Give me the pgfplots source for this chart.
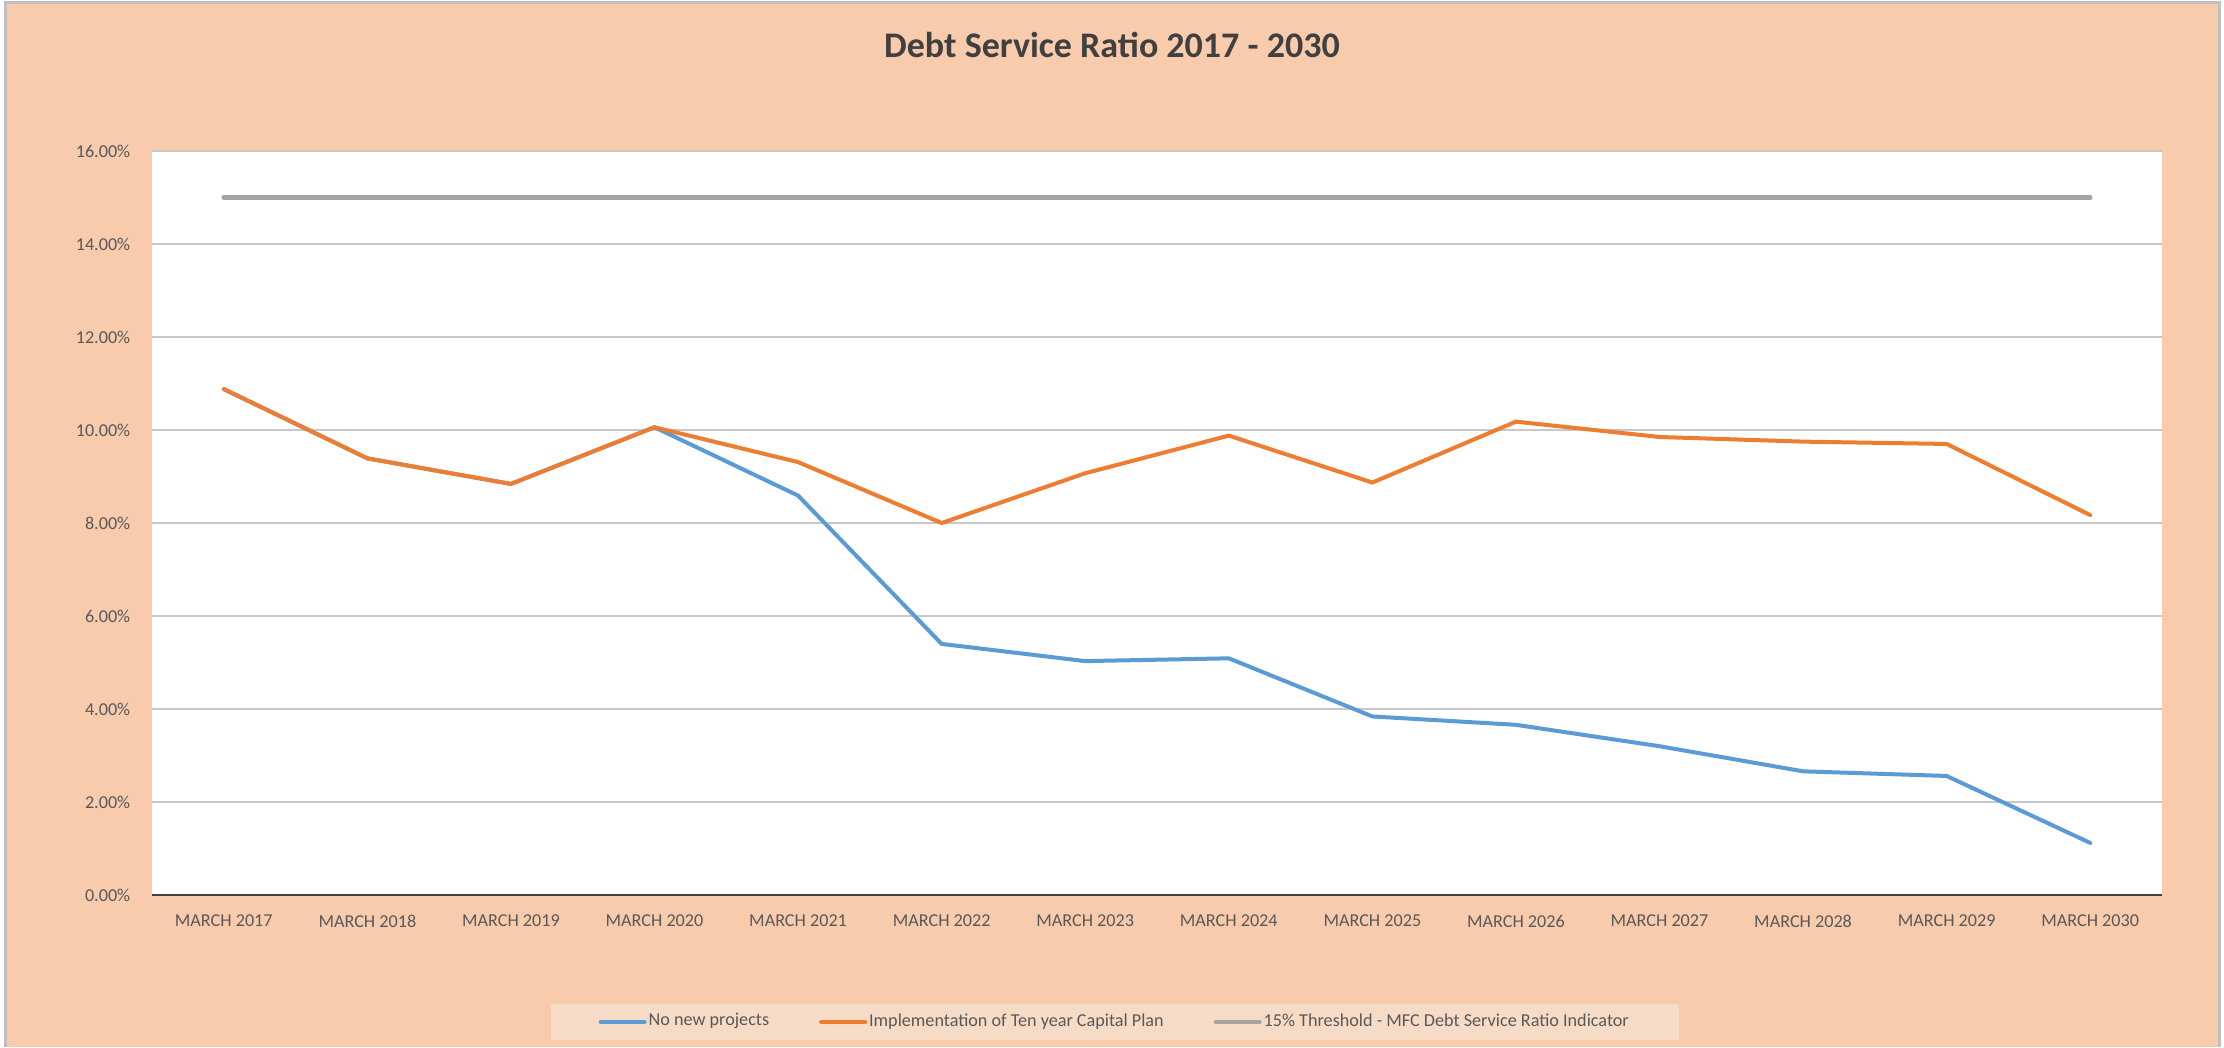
\documentclass[border=0pt]{standalone}
\usepackage{pgfplots}
\pgfplotsset{compat=1.18}
\usepackage{fontspec}
\setmainfont{Carlito}
\definecolor{peach}{RGB}{248,203,173}
\definecolor{legfill}{RGB}{246,219,199}
\definecolor{frame}{RGB}{191,191,191}
\definecolor{txt}{RGB}{89,89,89}
\definecolor{ttl}{RGB}{64,64,64}
\definecolor{gridc}{RGB}{200,200,200}
\definecolor{cblue}{RGB}{91,155,213}
\definecolor{corange}{RGB}{237,125,49}
\definecolor{cgray}{RGB}{165,165,165}
\begin{document}
\begin{tikzpicture}
\useasboundingbox (0,0) rectangle (667.2pt,314.1pt);
\fill[white] (0,0) rectangle (667.2pt,314.1pt);
\fill[peach] (1.8pt,0) rectangle (665.4pt,312.9pt);
\draw[frame, line width=0.9pt] (1.5pt,0) -- (1.5pt,313.3pt) -- (665.7pt,313.3pt) -- (665.7pt,0);
\node[font=\fontsize{10.8}{13}\selectfont\bfseries, text=ttl] at (333.6pt,300.6pt) {Debt Service Ratio 2017 - 2030};
\begin{axis}[
  at={(45.6pt,45.6pt)}, anchor=south west,
  scale only axis, width=603pt, height=223.2pt,
  xmin=-0.5, xmax=13.5, ymin=0, ymax=16,
  axis background/.style={fill=white},
  axis x line*=bottom, axis y line*=left,
  x axis line style={draw=ttl, line width=0.6pt, -},
  y axis line style={draw=none},
  major tick length=0pt,
  xtick={0,...,13},
  xticklabels={MARCH 2017,MARCH 2018,MARCH 2019,MARCH 2020,MARCH 2021,MARCH 2022,MARCH 2023,MARCH 2024,MARCH 2025,MARCH 2026,MARCH 2027,MARCH 2028,MARCH 2029,MARCH 2030},
  ytick={0,2,...,16},
  yticklabels={0.00\%,2.00\%,4.00\%,6.00\%,8.00\%,10.00\%,12.00\%,14.00\%,16.00\%},
  ymajorgrids, major grid style={gridc, line width=0.45pt},
  tick label style={font=\fontsize{5.45}{6.5}\selectfont, text=txt},
  xticklabel style={yshift=-2.5pt},
  yticklabel style={xshift=-3pt},
  legend style={fill=legfill, draw=none, at={(0.479,-0.171)}, anchor=center,
    font=\fontsize{5.45}{6.5}\selectfont, text=txt, inner xsep=14.4pt, inner ysep=2.2pt,
    nodes={inner sep=0.6pt},
    /tikz/every even column/.append style={column sep=14.4pt},
    /tikz/every odd column/.append style={column sep=0pt}},
  legend columns=3,
  legend image code/.code={\draw[#1, line width=1.2pt, line cap=round] (0pt,0pt) -- (13.2pt,0pt);},
  every axis plot/.append style={line width=1.2pt, line join=round, line cap=round, mark=none},
]
\addplot[cblue] coordinates {(0,10.88) (1,9.39) (2,8.84) (3,10.06) (4,8.59) (5,5.40) (6,5.03) (7,5.09) (8,3.84) (9,3.66) (10,3.20) (11,2.66) (12,2.56) (13,1.12)};
\addlegendentry{No new projects}
\addplot[corange] coordinates {(0,10.88) (1,9.39) (2,8.84) (3,10.06) (4,9.31) (5,8.00) (6,9.07) (7,9.88) (8,8.87) (9,10.18) (10,9.85) (11,9.75) (12,9.70) (13,8.17)};
\addlegendentry{Implementation of Ten year Capital Plan}
\addplot[cgray, line width=1.4pt] coordinates {(0,15) (1,15) (2,15) (3,15) (4,15) (5,15) (6,15) (7,15) (8,15) (9,15) (10,15) (11,15) (12,15) (13,15)};
\addlegendentry{15\% Threshold - MFC Debt Service Ratio Indicator}
\end{axis}
\end{tikzpicture}
\end{document}
